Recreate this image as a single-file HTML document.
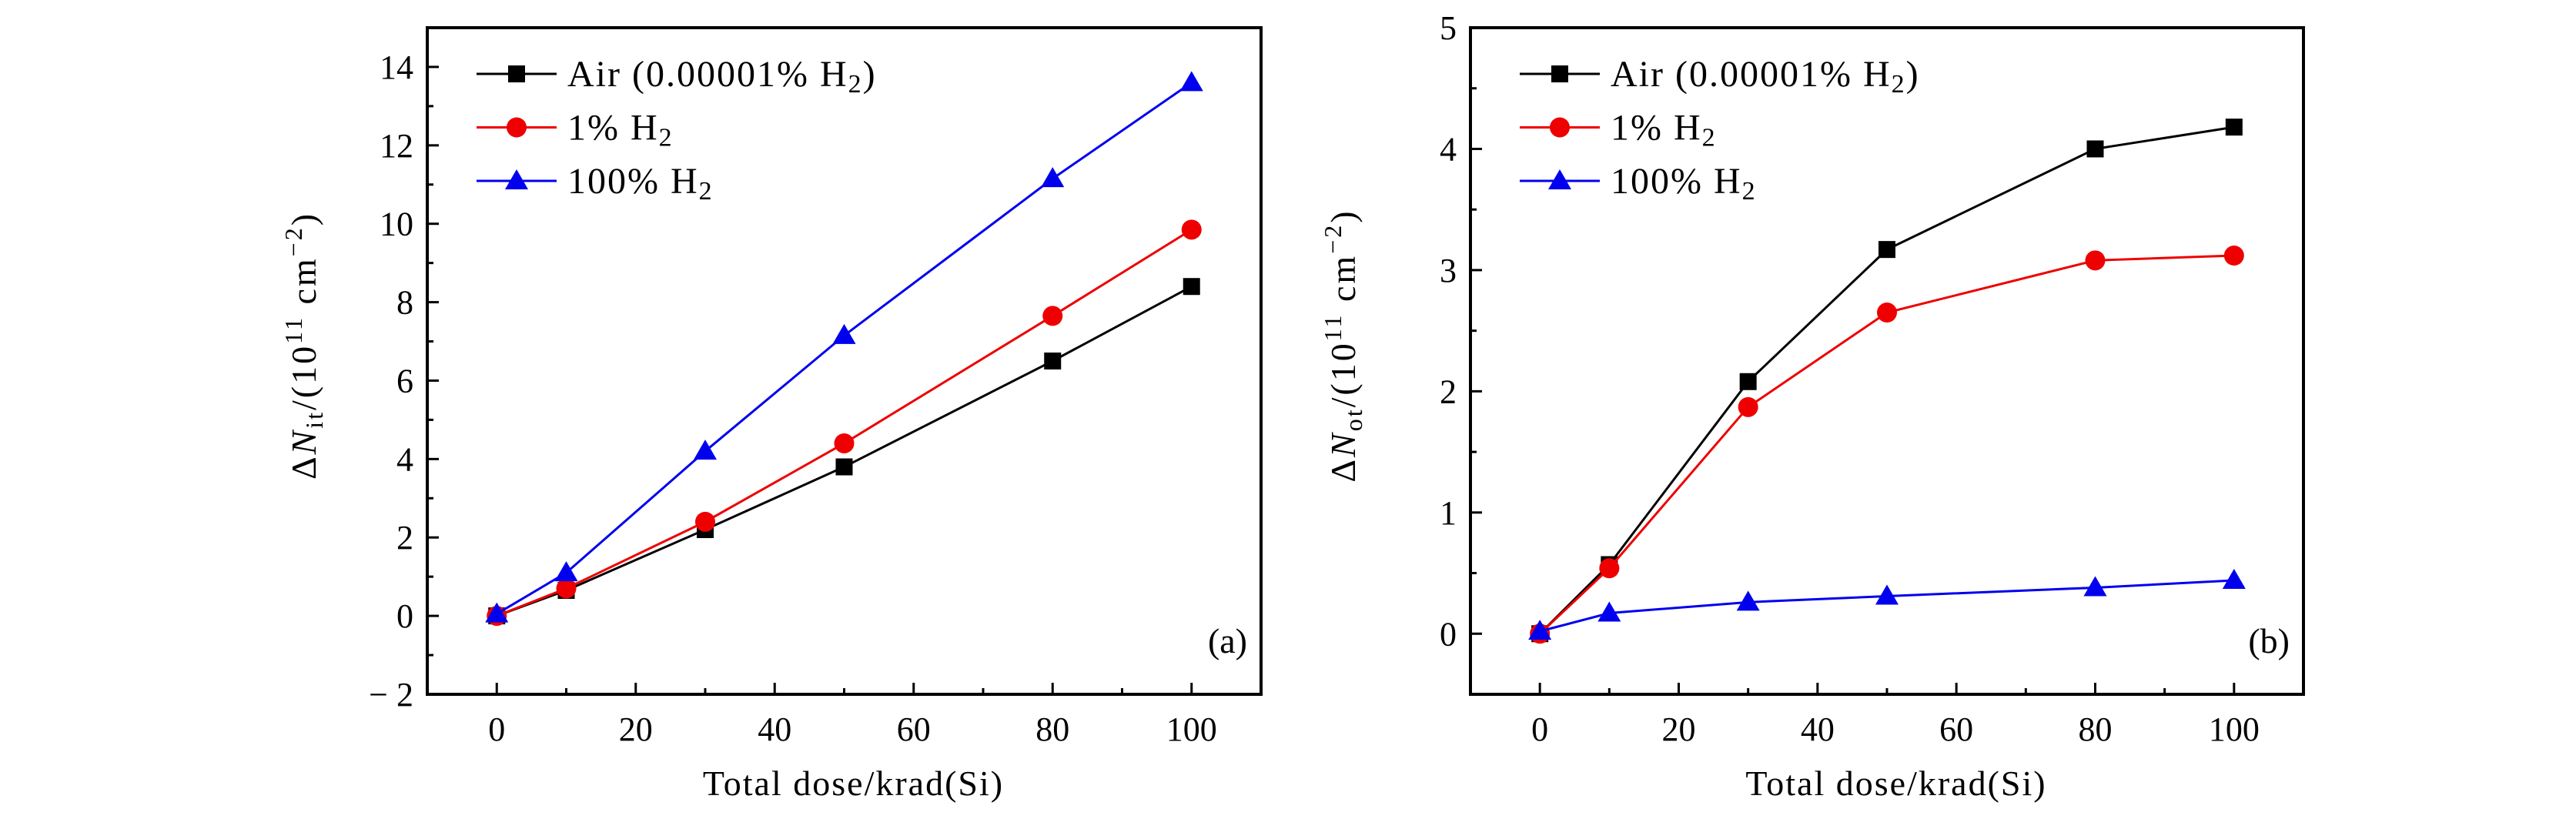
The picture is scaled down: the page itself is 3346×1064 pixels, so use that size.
<!DOCTYPE html>
<html><head><meta charset="utf-8"><style>
html,body{margin:0;padding:0;background:#fff}
text,tspan{font-family:"Liberation Serif","DejaVu Serif","Noto Serif CJK SC",serif !important;fill:#000}
</style></head><body>
<svg id="c" width="3346" height="1059" xmlns="http://www.w3.org/2000/svg"></svg>
<script>
const doses = [0, 10, 30, 50, 80, 100];
const nitAir = [0, 0.65, 2.2, 3.8, 6.5, 8.4];
const nit1 = [0, 0.7, 2.4, 4.4, 7.65, 9.85];
const nit100 = [0.05, 1.1, 4.2, 7.15, 11.15, 13.6];
const notAir = [0, 0.57, 2.08, 3.17, 4.0, 4.18];
const not1 = [0, 0.54, 1.87, 2.65, 3.08, 3.12];
const not100 = [0.02, 0.17, 0.26, 0.31, 0.38, 0.44];
const xTicks = [0, 20, 40, 60, 80, 100];
const yTicksA = [-2, 0, 2, 4, 6, 8, 10, 12, 14];
const yTicksB = [0, 1, 2, 3, 4, 5];
const seriesNames = ["Air (0.00001% H", "1% H", "100% H"];

const NS = "http://www.w3.org/2000/svg";
const svg = document.getElementById('c');
function mk(tag, attrs, parent) {
  const e = document.createElementNS(NS, tag);
  for (const k in attrs) e.setAttribute(k, attrs[k]);
  (parent || svg).appendChild(e);
  return e;
}
function marker(g, kind, cx, cy, color) {
  let m;
  if (kind === 0) m = mk('rect', {x: cx - 11, y: cy - 11, width: 22, height: 22, fill: color}, g);
  else if (kind === 1) m = mk('circle', {cx: cx, cy: cy, r: 13, fill: color}, g);
  else m = mk('polygon', {points: `${cx},${cy - 15} ${cx + 15},${cy + 11} ${cx - 15},${cy + 11}`, fill: color}, g);
  return m;
}
const colors = ["#000", "#e00", "#00e"];

function panel(id, L, T, R, B, yMin, yMax, yTicks, yMinor, series, ylabelSub, tag, titleX) {
  const g = mk('g', {});
  
  
  const xs = v => L + (v + 10) / 120 * (R - L);
  const ys = v => B - (v - yMin) / (yMax - yMin) * (B - T);
  for (let v = 0; v <= 100; v += 10) {
    const major = v % 20 === 0;
    const t = mk('line', {x1: xs(v), x2: xs(v), y1: B, y2: B - (major ? 15 : 8), stroke: '#000', 'stroke-width': 3}, g);
    
    
  }
  xTicks.forEach(v => {
    const t = mk('text', {x: xs(v), y: 962, 'font-size': 44, 'text-anchor': 'middle'}, g);
    t.textContent = v;
    
    
  });
  yMinor.forEach(v => {
    const t = mk('line', {x1: L, x2: L + 8, y1: ys(v), y2: ys(v), stroke: '#000', 'stroke-width': 3}, g);
    
    
  });
  yTicks.forEach(v => {
    const t = mk('line', {x1: L, x2: L + 15, y1: ys(v), y2: ys(v), stroke: '#000', 'stroke-width': 3}, g);
    
    
    const l = mk('text', {x: L - 18, y: ys(v) + 15, 'font-size': 44, 'text-anchor': 'end'}, g);
    l.textContent = v < 0 ? '\u2212 ' + (-v) : v;
    
    
  });
  series.forEach((s, i) => {
    const sg = mk('g', {}, g);
    
    
    const pl = mk('polyline', {points: doses.map((d, j) => xs(d) + ',' + ys(s[j])).join(' '), fill: 'none', stroke: colors[i], 'stroke-width': 3}, sg);
    
    
    doses.forEach((d, j) => {
      const m = marker(sg, i, xs(d), ys(s[j]), colors[i]);
      
      
    });
  });
  const f = mk('rect', {x: L, y: T, width: R - L, height: B - T, fill: 'none', stroke: '#000', 'stroke-width': 4}, g);
  
  
  const lg = mk('g', {}, g);
  
  
  for (let i = 0; i < 3; i++) {
    const y = 96 + i * 69.5;
    const lx = L + 64;
    const e = mk('g', {}, lg);
    
    
    mk('line', {x1: lx, x2: lx + 104, y1: y, y2: y, stroke: colors[i], 'stroke-width': 3}, e);
    marker(e, i, lx + 52, y, colors[i]);
    const t = mk('text', {x: lx + 118, y: y + 16, 'font-size': 48, 'letter-spacing': 2}, e);
    t.appendChild(document.createTextNode(seriesNames[i]));
    const sub = mk('tspan', {'font-size': 34, dy: 8}, t);
    sub.textContent = '2';
    if (i === 0) { const c = mk('tspan', {dy: -8}, t); c.textContent = ')'; }
  }
  const tg = mk('text', {x: R - 18, y: 848, 'font-size': 46, 'text-anchor': 'end'}, g);
  tg.textContent = tag;
  
  
  const xt = mk('text', {x: (L + R) / 2 + 12, y: 1033, 'font-size': 46, 'text-anchor': 'middle', 'letter-spacing': 2}, g);
  xt.textContent = 'Total dose/krad(Si)';
  
  
  const yt = mk('text', {x: 0, y: 0, 'font-size': 46, 'text-anchor': 'middle', 'letter-spacing': 3, transform: `translate(${titleX},${(T + B) / 2 - 20}) rotate(-90)`}, g);
  yt.appendChild(document.createTextNode('\u0394'));
  const it = mk('tspan', {'font-style': 'italic'}, yt); it.textContent = 'N';
  const sb = mk('tspan', {'font-size': 32, dy: 9}, yt); sb.textContent = ylabelSub;
  const r1 = mk('tspan', {dy: -9}, yt); r1.textContent = '/(10';
  const sp = mk('tspan', {'font-size': 32, dy: -18}, yt); sp.textContent = '11';
  const r2 = mk('tspan', {dy: 18}, yt); r2.textContent = ' cm';
  const sp2 = mk('tspan', {'font-size': 32, dy: -18}, yt); sp2.textContent = '\u22122';
  const r3 = mk('tspan', {dy: 18}, yt); r3.textContent = ')';
  
  
}
panel('a', 555, 36, 1638, 902, -2, 15, yTicksA, [-1, 1, 3, 5, 7, 9, 11, 13, 15], [nitAir, nit1, nit100], 'it', '(a)', 410);
panel('b', 1910, 36, 2992, 902, -0.5, 5, yTicksB, [0.5, 1.5, 2.5, 3.5, 4.5], [notAir, not1, not100], 'ot', '(b)', 1760);
</script>
</body></html>
